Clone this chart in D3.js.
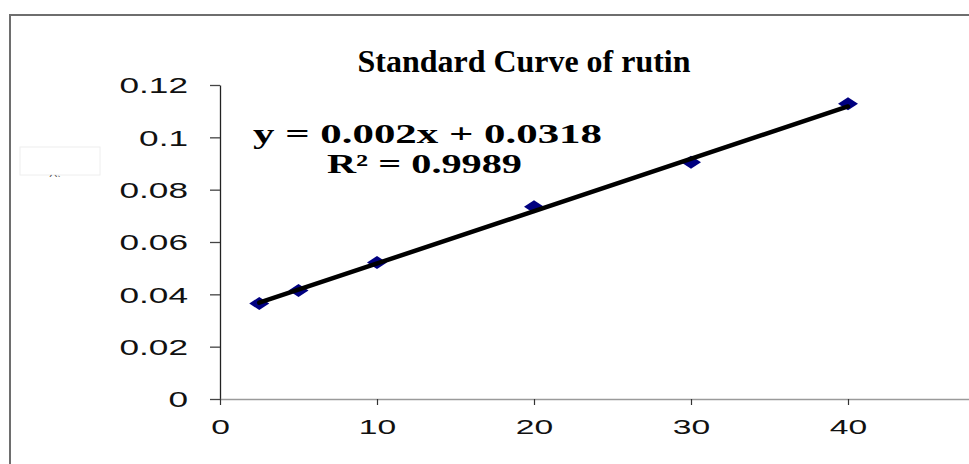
<!DOCTYPE html>
<html>
<head>
<meta charset="utf-8">
<script src="https://cdn.jsdelivr.net/npm/d3@7"></script>
<style>
  html, body { margin: 0; padding: 0; background: #fff; }
  svg { display: block; }
</style>
</head>
<body>
<svg id="chart" width="969" height="464"></svg>
<script>
// Rutin standard curve: concentration vs absorbance
const concentrations = [2.5, 5, 10, 20, 30, 40];
const absorbances = [0.0365, 0.0415, 0.0522, 0.0735, 0.0905, 0.1128];

// Linear trendline as reported on the chart
const slope = 0.002;
const intercept = 0.0318;
const rSquared = 0.9989;

const xTicks = [0, 10, 20, 30, 40];
const yTicks = [0, 0.02, 0.04, 0.06, 0.08, 0.1, 0.12];
const yTickLabels = ["0", "0.02", "0.04", "0.06", "0.08", "0.1", "0.12"];

const titleText = "Standard Curve of rutin";
const equationText = "y = 0.002x + 0.0318";
const rSquaredText = "R\u00B2 = " + rSquared;

const svg = d3.select("#chart");
const stretch = 1.6; // wide sans labels

// outer chart frame
svg.append("rect")
  .attr("x", 10).attr("y", 15)
  .attr("width", 1000).attr("height", 500)
  .attr("fill", "#fff")
  .attr("stroke", "#6e6e6e")
  .attr("stroke-width", 2);

// faint leftover label box
const clip = svg.append("clipPath").attr("id", "stubClip");
clip.append("rect").attr("x", 20).attr("y", 147).attr("width", 80).attr("height", 30);
svg.append("rect")
  .attr("x", 20).attr("y", 147).attr("width", 80).attr("height", 28)
  .attr("fill", "none").attr("stroke", "#eeeeee").attr("stroke-width", 1);
svg.append("text")
  .attr("clip-path", "url(#stubClip)")
  .attr("x", 49).attr("y", 181)
  .attr("font-family", "Liberation Sans, Arial, sans-serif")
  .attr("font-size", 11)
  .attr("fill", "#555")
  .text("ω\u203A");

const x = d3.scaleLinear().domain([0, 50]).range([220, 1005]);
const y = d3.scaleLinear().domain([0, 0.12]).range([399, 85]);

// y axis
const yAxis = svg.append("g")
  .attr("transform", `translate(${x(0)},0)`)
  .call(d3.axisLeft(y)
    .tickValues(yTicks)
    .tickSize(10)
    .tickSizeOuter(0)
    .tickPadding(22)
    .tickFormat((d, i) => yTickLabels[i]));
yAxis.select(".domain").attr("stroke", "#222").attr("stroke-width", 1.3);
yAxis.selectAll(".tick line").attr("stroke", "#444").attr("stroke-width", 1.3);
yAxis.selectAll(".tick text")
  .attr("font-family", "Liberation Sans, Arial, sans-serif")
  .attr("font-size", 22)
  .attr("fill", "#111")
  .attr("dy", "0.36em");

// x axis
const xAxis = svg.append("g")
  .attr("transform", `translate(0,${y(0)})`)
  .call(d3.axisBottom(x)
    .tickValues(xTicks)
    .tickSize(6)
    .tickSizeOuter(0)
    .tickPadding(14));
xAxis.select(".domain").attr("stroke", "#9a9a9a").attr("stroke-width", 1.6);
xAxis.selectAll(".tick line").attr("stroke", "#333").attr("stroke-width", 1.2);
xAxis.selectAll(".tick text")
  .attr("font-family", "Liberation Sans, Arial, sans-serif")
  .attr("font-size", 21)
  .attr("fill", "#111")
  .attr("dy", "0.71em");

// stretch the axis labels horizontally
svg.selectAll(".tick text").each(function () {
  const w = this.getComputedTextLength();
  d3.select(this)
    .attr("textLength", w * stretch)
    .attr("lengthAdjust", "spacingAndGlyphs");
});

// data markers (flattened diamonds)
const pts = concentrations.map((c, i) => ({ c, a: absorbances[i] }));
svg.append("g").selectAll("path")
  .data(pts)
  .enter().append("path")
  .attr("d", d => {
    const cx = x(d.c), cy = y(d.a);
    return `M${cx - 10},${cy}L${cx},${cy - 6.5}L${cx + 10},${cy}L${cx},${cy + 6.5}Z`;
  })
  .attr("fill", "#000080");

// trendline over the measured range
const xr = d3.extent(concentrations);
svg.append("line")
  .attr("x1", x(xr[0])).attr("y1", y(slope * xr[0] + intercept))
  .attr("x2", x(xr[1])).attr("y2", y(slope * xr[1] + intercept))
  .attr("stroke", "#000")
  .attr("stroke-width", 4.5)
  .attr("stroke-linecap", "round");

// title
svg.append("text")
  .attr("x", 524).attr("y", 72)
  .attr("text-anchor", "middle")
  .attr("font-family", "Liberation Serif, 'Times New Roman', serif")
  .attr("font-weight", "bold")
  .attr("font-size", 32)
  .attr("textLength", 333)
  .attr("lengthAdjust", "spacingAndGlyphs")
  .attr("fill", "#000")
  .text(titleText);

// trendline equation
svg.append("text")
  .attr("x", 253).attr("y", 143)
  .attr("font-family", "Liberation Serif, 'Times New Roman', serif")
  .attr("font-weight", "bold")
  .attr("font-size", 27)
  .attr("textLength", 349)
  .attr("lengthAdjust", "spacingAndGlyphs")
  .attr("fill", "#000")
  .text(equationText);

svg.append("text")
  .attr("x", 327).attr("y", 173)
  .attr("font-family", "Liberation Serif, 'Times New Roman', serif")
  .attr("font-weight", "bold")
  .attr("font-size", 27)
  .attr("textLength", 195)
  .attr("lengthAdjust", "spacingAndGlyphs")
  .attr("fill", "#000")
  .text(rSquaredText);
</script>
</body>
</html>
